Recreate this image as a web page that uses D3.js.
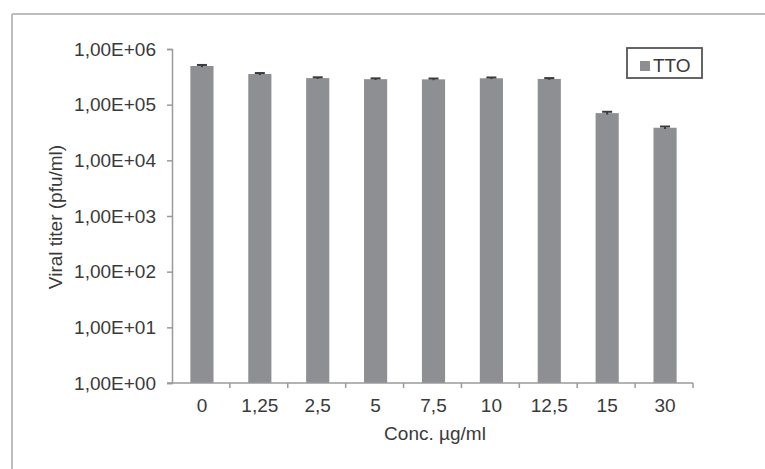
<!DOCTYPE html>
<html>
<head>
<meta charset="utf-8">
<script src="https://cdn.jsdelivr.net/npm/d3@7"></script>
<style>
  html, body { margin: 0; padding: 0; background: #fff; }
  svg { display: block; }
  text { font-family: "Liberation Sans", Arial, sans-serif; fill: #3a3a3a; }
</style>
</head>
<body>
<svg id="chart" width="765" height="469"></svg>
<script>
const categories = ["0", "1,25", "2,5", "5", "7,5", "10", "12,5", "15", "30"];
const titerValues = [495000, 355000, 300000, 287000, 285000, 298000, 290000, 70500, 38500];
const errorValues = [22000, 15000, 10000, 10000, 10000, 10000, 10000, 4000, 2000];
const yTickValues = [1, 10, 100, 1000, 10000, 100000, 1000000];
const yTickLabels = ["1,00E+00", "1,00E+01", "1,00E+02", "1,00E+03", "1,00E+04", "1,00E+05", "1,00E+06"];
const seriesName = "TTO";
const xTitle = "Conc. µg/ml";
const yTitle = "Viral titer (pfu/ml)";

const svg = d3.select("#chart");
const W = 765, H = 469;
const plot = { left: 172, right: 693, top: 49, bottom: 383 };
const FS = 19;

// outer frame (top and left edges visible)
svg.append("line").attr("x1", 12).attr("x2", W).attr("y1", 14).attr("y2", 14)
  .attr("stroke", "#bdbdbd").attr("stroke-width", 2);
svg.append("line").attr("x1", 12).attr("x2", 12).attr("y1", 14).attr("y2", H)
  .attr("stroke", "#bdbdbd").attr("stroke-width", 2);

const x = d3.scaleBand().domain(categories).range([plot.left, plot.right]).paddingInner(0.6).paddingOuter(0.3);
const y = d3.scaleLog().domain([1, 1e6]).range([plot.bottom, plot.top]);

// bars
svg.append("g").selectAll("rect").data(categories).join("rect")
  .attr("x", d => x(d) + 1)
  .attr("width", x.bandwidth())
  .attr("y", (d, i) => y(titerValues[i]))
  .attr("height", (d, i) => y(1) - y(titerValues[i]))
  .attr("fill", "#8e8f93");

// error bars
const eg = svg.append("g").attr("stroke", "#3a3a3a").attr("stroke-width", 2);
categories.forEach((c, i) => {
  const cx = x(c) + x.bandwidth() / 2 + 1;
  const y1 = y(titerValues[i] + errorValues[i]);
  const y0 = y(titerValues[i] - errorValues[i]);
  eg.append("line").attr("x1", cx).attr("x2", cx).attr("y1", y1).attr("y2", y0);
  eg.append("line").attr("x1", cx - 5).attr("x2", cx + 5).attr("y1", y1).attr("y2", y1);
});

// y axis
const yAxis = d3.axisLeft(y).tickValues(yTickValues)
  .tickFormat((d, i) => yTickLabels[i]).tickSizeOuter(0).tickSize(5).tickPadding(11);
const gy = svg.append("g").attr("transform", `translate(${plot.left},0)`).call(yAxis);
gy.select(".domain").attr("stroke", "#9a9a9a").attr("stroke-width", 1.5);
gy.selectAll(".tick line").attr("stroke", "#9a9a9a").attr("stroke-width", 1.5);
gy.selectAll(".tick text").attr("font-size", FS).attr("fill", "#3a3a3a")
  .style("font-family", "'Liberation Sans', Arial, sans-serif");

// x axis: ticks at band boundaries
const xAxisG = svg.append("g").attr("transform", `translate(0,${plot.bottom})`);
xAxisG.append("line").attr("x1", plot.left - 5).attr("x2", plot.right)
  .attr("stroke", "#9a9a9a").attr("stroke-width", 1.5);
const boundaries = d3.range(categories.length + 1).map(i => plot.left + (plot.right - plot.left) * i / categories.length);
xAxisG.selectAll("line.tk").data(boundaries.slice(1)).join("line").attr("class", "tk")
  .attr("x1", d => d).attr("x2", d => d).attr("y1", 0).attr("y2", 5)
  .attr("stroke", "#9a9a9a").attr("stroke-width", 1.5);
xAxisG.selectAll("text").data(categories).join("text")
  .attr("x", d => x(d) + x.bandwidth() / 2 + 1)
  .attr("y", 29)
  .attr("text-anchor", "middle")
  .attr("font-size", FS)
  .text(d => d);

// axis titles
svg.append("text").attr("x", 435).attr("y", 440)
  .attr("text-anchor", "middle").attr("font-size", FS).text(xTitle);
svg.append("text").attr("transform", `translate(62,217) rotate(-90)`)
  .attr("text-anchor", "middle").attr("font-size", FS).text(yTitle);

// legend
const lg = svg.append("g");
lg.append("rect").attr("x", 627).attr("y", 48).attr("width", 75).attr("height", 30)
  .attr("fill", "none").attr("stroke", "#555").attr("stroke-width", 1.8);
lg.append("rect").attr("x", 640).attr("y", 61).attr("width", 10).attr("height", 10)
  .attr("fill", "#8e8f93");
lg.append("text").attr("x", 653).attr("y", 72).attr("font-size", FS).text(seriesName);
</script>
</body>
</html>
